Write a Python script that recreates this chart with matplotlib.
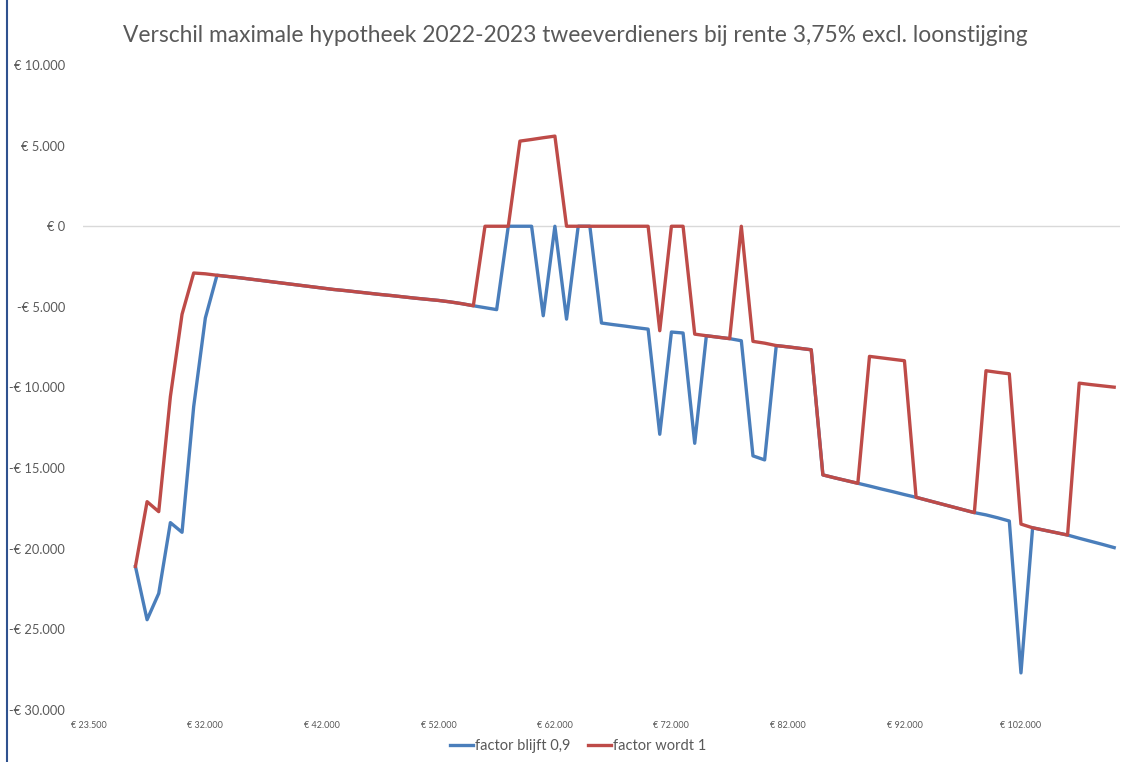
import matplotlib
matplotlib.use("Agg")
import matplotlib.pyplot as plt
from matplotlib.ticker import FuncFormatter
import numpy as np

plt.rcParams['font.family'] = ['Lato', 'DejaVu Sans']

title = 'Verschil maximale hypotheek 2022-2023 tweeverdieners bij rente 3,75% excl. loonstijging'

# x-axis: category labels shown every 10th category
x_labels = ['€ 23.500', '€ 32.000', '€ 42.000', '€ 52.000', '€ 62.000',
            '€ 72.000', '€ 82.000', '€ 92.000', '€ 102.000']
n_categories = 89
first_data_category = 4

# verschil in euro's per inkomenscategorie (vanaf categorie 4)
factor_blijft = [
    -21100, -24400, -22770, -18380, -18980, -11180, -5690, -3040, -3120, -3200,
    -3290, -3380, -3470, -3560, -3650, -3740, -3830, -3920, -3990, -4070,
    -4150, -4230, -4300, -4380, -4460, -4530, -4600, -4690, -4800, -4930,
    -5050, -5170, 0, 0, 0, -5550, 0, -5760, 0, 0,
    -6000, -6100, -6190, -6290, -6380, -12900, -6560, -6620, -13460, -6790,
    -6880, -6970, -7100, -14240, -14490, -7400, -7480, -7570, -7660, -15420,
    -15600, -15770, -15940, -16110, -16290, -16460, -16640, -16810, -17000, -17190,
    -17380, -17570, -17760, -17900, -18080, -18280, -27700, -18700, -18850, -19000,
    -19150, -19350, -19540, -19730, -19930,
]
factor_wordt_1 = [
    -21100, -17080, -17700, -10560, -5460, -2900, -2950, -3040, -3120, -3200,
    -3290, -3380, -3470, -3560, -3650, -3740, -3830, -3920, -3990, -4070,
    -4150, -4230, -4300, -4380, -4460, -4530, -4600, -4690, -4800, -4930,
    0, 0, 0, 5280, 5380, 5490, 5590, 0, 0, 0,
    0, 0, 0, 0, 0, -6480, 0, 0, -6690, -6790,
    -6880, -6970, 0, -7140, -7250, -7400, -7480, -7570, -7660, -15420,
    -15600, -15770, -15940, -8070, -8160, -8250, -8340, -16810, -17000, -17190,
    -17380, -17570, -17760, -8960, -9060, -9150, -18470, -18700, -18850, -19000,
    -19150, -9730, -9820, -9900, -9980,
]

y_ticks = np.arange(-30000, 10001, 5000)

blue = '#4A7EBB'
red = '#BE4B48'
grey_text = '#595959'


def euro(v, pos=None):
    s = f"{abs(int(v)):,}".replace(',', '.')
    return ('-€ ' if v < 0 else '€ ') + s


fig = plt.figure(figsize=(11.33, 7.62), dpi=100)
ax = fig.add_axes([83 / 1133, 1 - 710 / 762, (1120 - 83) / 1133, (710 - 65) / 762])

x = np.arange(first_data_category, first_data_category + len(factor_blijft))
ax.plot(x, factor_blijft, color=blue, lw=2.4, label='factor blijft 0,9', solid_joinstyle='round')
ax.plot(x, factor_wordt_1, color=red, lw=2.4, label='factor wordt 1', solid_joinstyle='round')

ax.set_xlim(-0.5, n_categories - 0.5)
ax.set_ylim(-30000, 10000)
ax.axhline(0, color='#D9D9D9', lw=1, zorder=0)

ax.set_xticks(np.arange(0, n_categories, 10))
ax.set_xticklabels(x_labels, fontsize=6.5, color=grey_text)
ax.set_yticks(y_ticks)
ax.yaxis.set_major_formatter(FuncFormatter(euro))
ax.tick_params(axis='y', labelsize=9.3, labelcolor=grey_text, length=0, pad=13)
ax.tick_params(axis='x', length=0, pad=8)
for s in ax.spines.values():
    s.set_visible(False)

fig.suptitle(title, x=575 / 1133, y=1 - 35 / 762, va='center', fontsize=16.4, color=grey_text)

fig.legend(loc='center', bbox_to_anchor=(578 / 1133, 1 - 746 / 762), ncol=2, frameon=False,
           fontsize=10.5, labelcolor=grey_text, handlelength=1.6, handletextpad=0.1,
           columnspacing=1.2)

# linker rand van het kader
fig.add_artist(plt.Line2D([7 / 1133, 7 / 1133], [0, 1], color='#2F528F', lw=1.5))

fig.savefig('out.png', dpi=100)
